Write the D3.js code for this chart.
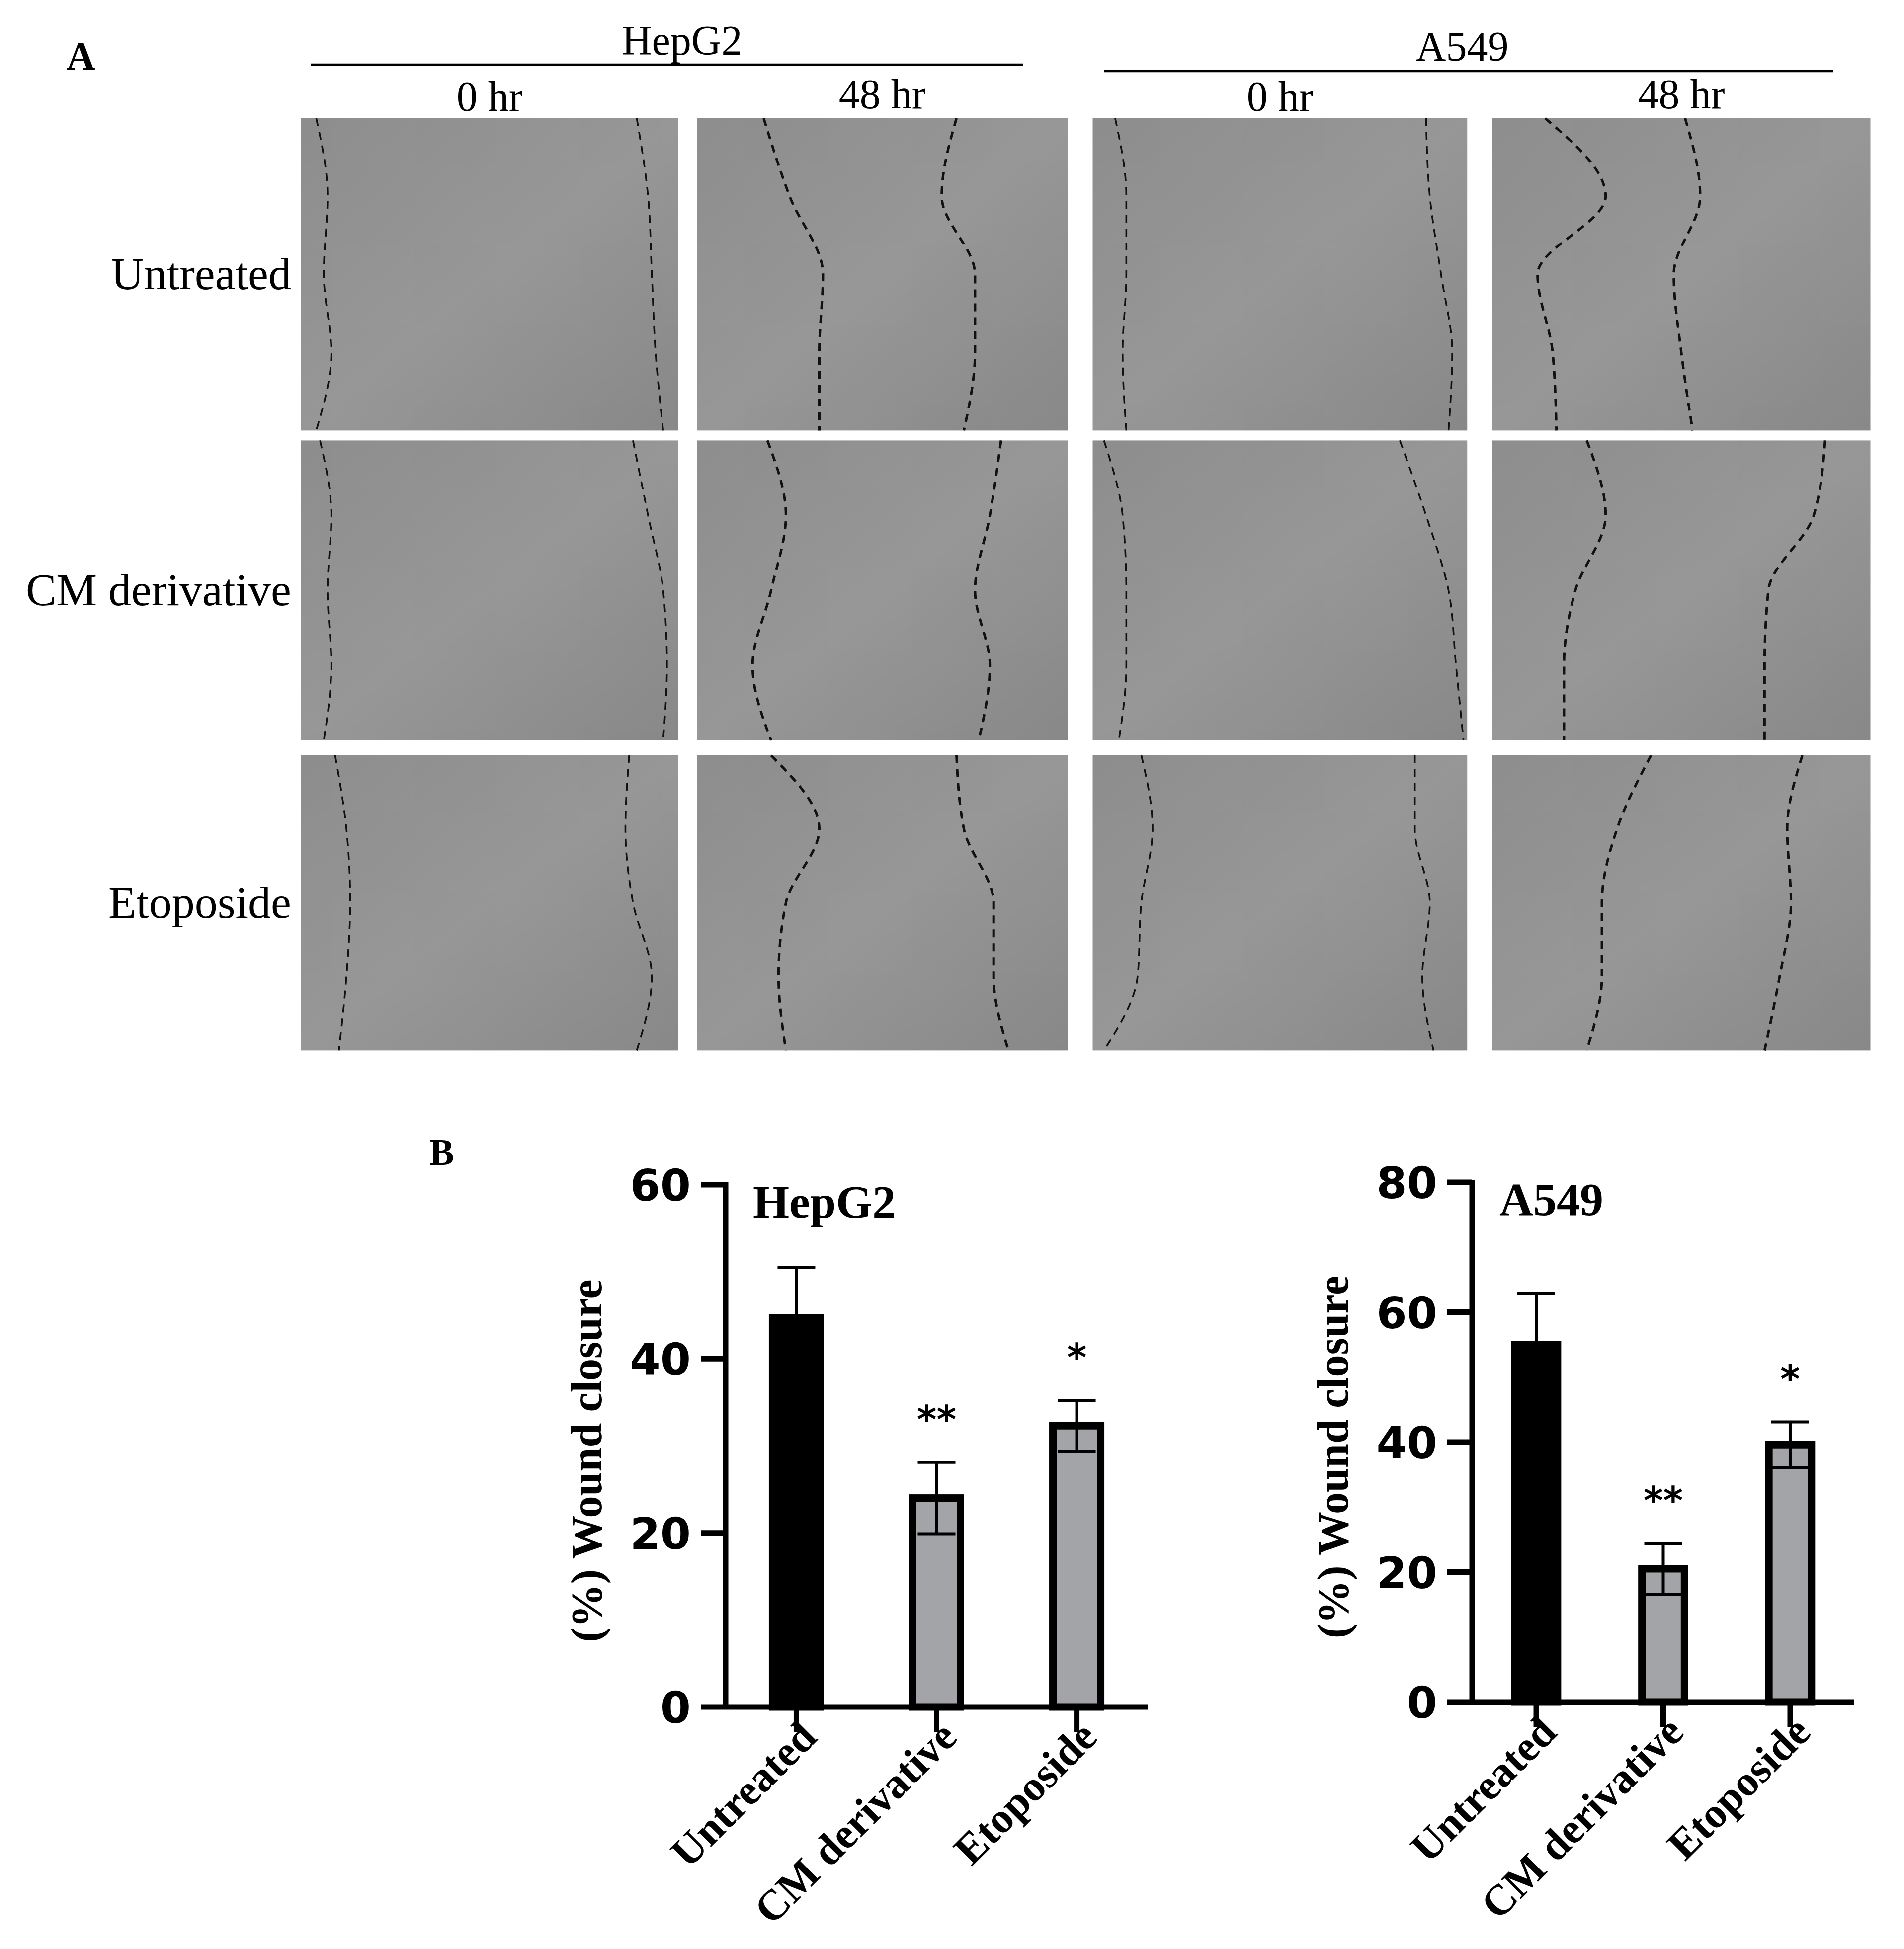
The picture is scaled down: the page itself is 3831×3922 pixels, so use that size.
<!DOCTYPE html>
<html><head><meta charset="utf-8">
<script src="https://cdn.jsdelivr.net/npm/d3@7"></script>
<style>body{margin:0;background:#fff}</style>
</head><body>
<div id="chart"></div>
<script>
const categories = ["Untreated", "CM derivative", "Etoposide"];
const hepMeans = [44.7, 24.0, 32.3];
const hepErr = [5.8, 4.1, 2.9];
const a549Means = [55.0, 20.5, 39.6];
const a549Err = [7.9, 3.9, 3.5];
const hepTicks = [0, 20, 40, 60];
const a549Ticks = [0, 20, 40, 60, 80];
const signif = ["", "**", "*"];
const rowLabels = ["Untreated", "CM derivative", "Etoposide"];
const colLabels = ["0 hr", "48 hr", "0 hr", "48 hr"];
// wound edge positions (fraction of panel width) at top, upper, middle, lower, bottom
const woundEdges = [
  [[0.04,0.07,0.06,0.08,0.04],[0.89,0.92,0.93,0.94,0.96]],
  [[0.18,0.25,0.34,0.33,0.33],[0.70,0.66,0.75,0.75,0.72]],
  [[0.06,0.09,0.09,0.08,0.09],[0.89,0.90,0.93,0.96,0.95]],
  [[0.14,0.30,0.12,0.16,0.17],[0.51,0.55,0.48,0.50,0.53]],
  [[0.05,0.08,0.07,0.08,0.06],[0.88,0.92,0.96,0.97,0.96]],
  [[0.19,0.24,0.20,0.15,0.20],[0.82,0.79,0.75,0.79,0.76]],
  [[0.03,0.08,0.09,0.09,0.07],[0.82,0.89,0.95,0.97,0.99]],
  [[0.25,0.30,0.22,0.19,0.19],[0.88,0.85,0.73,0.72,0.72]],
  [[0.09,0.12,0.13,0.12,0.10],[0.87,0.86,0.88,0.93,0.89]],
  [[0.20,0.33,0.24,0.22,0.24],[0.70,0.72,0.80,0.80,0.84]],
  [[0.13,0.16,0.13,0.12,0.03],[0.86,0.86,0.90,0.88,0.91]],
  [[0.42,0.33,0.29,0.29,0.25],[0.82,0.78,0.79,0.76,0.72]]
];

const W = 3831, H = 3922;
const svg = d3.select("#chart").append("svg").attr("width", W).attr("height", H);
const k = 2.504;

// ---- panel A ----
svg.append("text").attr("x", 65*k).attr("y", 56*k).attr("text-anchor", "middle")
  .style("font", "bold 80px 'Liberation Serif'").text("A");

const grad = svg.append("defs").append("linearGradient").attr("id", "g").attr("x1", 0).attr("x2", 1).attr("y1", 0).attr("y2", 1);
grad.append("stop").attr("offset", 0).attr("stop-color", "#8d8d8d");
grad.append("stop").attr("offset", 0.5).attr("stop-color", "#979797");
grad.append("stop").attr("offset", 1).attr("stop-color", "#888888");

const panelX = [[242,545],[560,858],[878,1179],[1199,1503]];
const panelY = [[95,346],[354,595],[607,844]];

[["HepG2", 250, 822, 548, 35, 52], ["A549", 887, 1473, 1175, 40, 57]].forEach(([t, x1, x2, tx, ty, ly]) => {
  svg.append("line").attr("x1", x1*k).attr("x2", x2*k).attr("y1", ly*k).attr("y2", ly*k)
    .attr("stroke", "#000").attr("stroke-width", 5);
  svg.append("text").attr("x", tx*k).attr("y", ty*k + 22).attr("text-anchor", "middle")
    .style("font", "84px 'Liberation Serif'").text(t);
});
colLabels.forEach((c, i) => {
  const cx = (panelX[i][0] + panelX[i][1]) / 2 * k;
  svg.append("text").attr("x", cx).attr("y", (i % 2 ? 76 : 78)*k + 28).attr("text-anchor", "middle")
    .style("font", "84px 'Liberation Serif'").text(c);
});
rowLabels.forEach((r, j) => {
  const cy = (panelY[j][0] + panelY[j][1]) / 2 * k;
  svg.append("text").attr("x", 234*k).attr("y", cy + 30).attr("text-anchor", "end")
    .style("font", "92px 'Liberation Serif'").text(r);
});
panelY.forEach((py, j) => panelX.forEach((px, i) => {
  const x0 = px[0]*k, x1 = px[1]*k, y0 = py[0]*k, y1 = py[1]*k;
  svg.append("rect").attr("x", x0).attr("y", y0).attr("width", x1 - x0).attr("height", y1 - y0)
    .attr("fill", "url(#g)");
  const ys = d3.scaleLinear().domain([0, 4]).range([y0, y1]);
  const xs = d3.scaleLinear().domain([0, 1]).range([x0, x1]);
  woundEdges[j*4 + i].forEach(edge => {
    svg.append("path")
      .attr("d", d3.line().x(d => xs(d)).y((d, n) => ys(n)).curve(d3.curveMonotoneY)(edge))
      .attr("fill", "none").attr("stroke", "#111").attr("stroke-width", i % 2 ? 5 : 3.5)
      .attr("stroke-dasharray", "16,12");
  });
}));

// ---- panel B ----
svg.append("text").attr("x", 355*k).attr("y", 936*k).attr("text-anchor", "middle")
  .style("font", "bold 74px 'Liberation Serif'").text("B");

function barChart(o) {
  const y = d3.scaleLinear().domain([0, o.max]).range([o.ybot, o.ytop]);
  const x = d3.scaleBand().domain(categories).range([o.x0, o.xend]).paddingInner(0.61).paddingOuter(0.31);
  const g = svg.append("g");
  const bw = x.bandwidth();
  g.selectAll(".bar").data(o.means).join("rect")
    .attr("x", (d, i) => x(categories[i]) + 7)
    .attr("y", d => y(d))
    .attr("width", bw - 14).attr("height", d => y(0) - y(d))
    .attr("fill", (d, i) => i === 0 ? "#000" : "#a3a4a8")
    .attr("stroke", "#000").attr("stroke-width", 15);
  o.means.forEach((m, i) => {
    const cx = x(categories[i]) + bw / 2, e = o.err[i];
    g.append("path").attr("d", `M${cx},${y(m - e)}V${y(m + e)}M${cx - 38},${y(m + e)}H${cx + 38}M${cx - 38},${y(m - e)}H${cx + 38}`)
      .attr("stroke", "#000").attr("stroke-width", 6).attr("fill", "none");
    if (o.sig[i]) g.append("text").attr("x", cx).attr("y", y(m + e) - 60).attr("text-anchor", "middle")
      .style("font", "bold 76px 'DejaVu Sans'").text(o.sig[i]);
    g.append("line").attr("x1", cx).attr("x2", cx).attr("y1", o.ybot).attr("y2", o.ybot + 50)
      .attr("stroke", "#000").attr("stroke-width", 11);
    g.append("text").attr("transform", `translate(${cx + 45},${o.ybot + 65}) rotate(-45)`)
      .attr("text-anchor", "end").style("font", "bold 86px 'Liberation Serif'").text(categories[i]);
  });
  // axes
  g.append("line").attr("x1", o.x0).attr("x2", o.xend).attr("y1", o.ybot).attr("y2", o.ybot)
    .attr("stroke", "#000").attr("stroke-width", 11);
  g.append("line").attr("x1", o.x0).attr("x2", o.x0).attr("y1", o.ytop - 5).attr("y2", o.ybot + 5)
    .attr("stroke", "#000").attr("stroke-width", 11);
  o.ticks.forEach(t => {
    g.append("line").attr("x1", o.x0 - 50).attr("x2", o.x0).attr("y1", y(t)).attr("y2", y(t))
      .attr("stroke", "#000").attr("stroke-width", 11);
    g.append("text").attr("x", o.x0 - 70).attr("y", y(t) + 32).attr("text-anchor", "end")
      .style("font", "bold 88px 'DejaVu Sans'").text(t);
  });
  g.append("text").attr("transform", `translate(${o.x0 - 250},${(o.ytop + o.ybot) / 2 + 30}) rotate(-90)`)
    .attr("text-anchor", "middle").style("font", "bold 88px 'Liberation Serif'").text("(%) Wound closure");
  g.append("text").attr("x", o.x0 + 55).attr("y", o.ytop + 66)
    .style("font", "bold 94px 'Liberation Serif'").text(o.title);
}

barChart({ title: "HepG2", means: hepMeans, err: hepErr, ticks: hepTicks, max: 60, sig: signif,
  x0: 1460, xend: 2309, ytop: 2384, ybot: 3435 });
barChart({ title: "A549", means: a549Means, err: a549Err, ticks: a549Ticks, max: 80, sig: signif,
  x0: 2962, xend: 3731, ytop: 2379, ybot: 3425 });
</script>
</body></html>
